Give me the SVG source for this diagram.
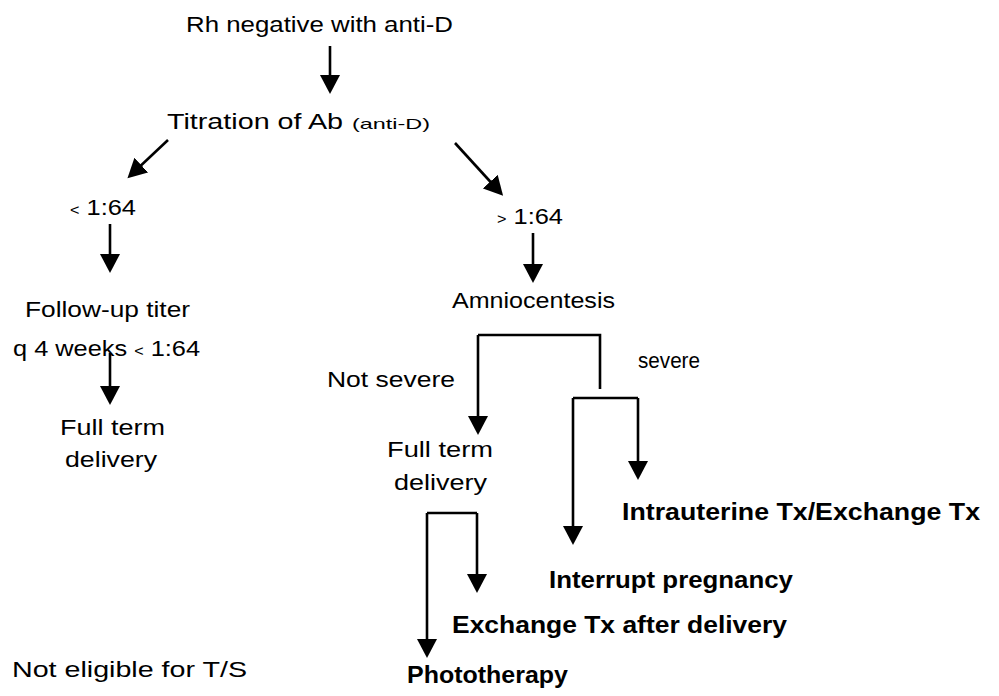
<svg xmlns="http://www.w3.org/2000/svg" width="999" height="696" viewBox="0 0 999 696">
<style>
text{font-family:"Liberation Sans","DejaVu Sans",sans-serif;fill:#000;}
.r{font-size:22px;}
.b{font-size:23px;font-weight:bold;}
.s{font-size:15px;}
.c{fill:none;stroke:#000;stroke-width:2.6;}
.a{marker-end:url(#ah);}
</style>
<defs>
<marker id="ah" markerUnits="userSpaceOnUse" markerWidth="20" markerHeight="22" refX="10" refY="10" orient="auto" viewBox="0 0 20 20">
<path d="M0,0 L19,10 L0,20 z" fill="#000"/>
</marker>
</defs>
<rect width="999" height="696" fill="#fff"/>
<g id="connectors">
<path class="c a" d="M330,46 V85"/>
<path class="c a" d="M168,140 L134,172"/>
<path class="c a" d="M455,143 L497,189"/>
<path class="c a" d="M110,224 V264"/>
<path class="c a" d="M533,233 V274"/>
<path class="c a" d="M110,353 V396"/>
<path class="c" d="M600,389 V335 H478"/>
<path class="c a" d="M478,335 V426"/>
<path class="c" d="M573,398 H638"/>
<path class="c a" d="M573,398 V536"/>
<path class="c a" d="M638,398 V471"/>
<path class="c" d="M427,513 H477"/>
<path class="c a" d="M427,513 V649"/>
<path class="c a" d="M477,513 V584"/>
</g>
<g id="n1"><text class="r" x="186" y="32" textLength="267" lengthAdjust="spacingAndGlyphs">Rh negative with anti-D</text></g>
<g id="n2"><text class="r" x="167" y="129" textLength="176" lengthAdjust="spacingAndGlyphs">Titration of Ab</text><text class="s" x="352" y="129" textLength="78" lengthAdjust="spacingAndGlyphs">(anti-D)</text></g>
<g id="n3"><text class="r" x="70" y="215" textLength="66" lengthAdjust="spacingAndGlyphs"><tspan font-size="14">&lt;</tspan> 1:64</text></g>
<g id="n4"><text class="r" x="497" y="224" textLength="66" lengthAdjust="spacingAndGlyphs"><tspan font-size="14">&gt;</tspan> 1:64</text></g>
<g id="n5"><text class="r" x="25" y="317" textLength="165" lengthAdjust="spacingAndGlyphs">Follow-up titer</text><text class="r" x="13" y="356" textLength="187" lengthAdjust="spacingAndGlyphs">q 4 weeks <tspan font-size="14">&lt;</tspan> 1:64</text></g>
<g id="n6"><text class="r" x="60" y="435" textLength="105" lengthAdjust="spacingAndGlyphs">Full term</text><text class="r" x="65" y="467" textLength="92" lengthAdjust="spacingAndGlyphs">delivery</text></g>
<g id="n7"><text class="r" x="452" y="308" textLength="163" lengthAdjust="spacingAndGlyphs">Amniocentesis</text></g>
<g id="l1"><text class="r" x="327" y="387" textLength="128" lengthAdjust="spacingAndGlyphs">Not severe</text></g>
<g id="l2"><text class="r" x="638" y="368" textLength="62" lengthAdjust="spacingAndGlyphs">severe</text></g>
<g id="n8"><text class="r" x="387" y="457" textLength="106" lengthAdjust="spacingAndGlyphs">Full term</text><text class="r" x="394" y="490" textLength="93" lengthAdjust="spacingAndGlyphs">delivery</text></g>
<g id="n9"><text class="b" x="622" y="520" textLength="358" lengthAdjust="spacingAndGlyphs">Intrauterine Tx/Exchange Tx</text></g>
<g id="n10"><text class="b" x="549" y="588" textLength="244" lengthAdjust="spacingAndGlyphs">Interrupt pregnancy</text></g>
<g id="n11"><text class="b" x="452" y="633" textLength="335" lengthAdjust="spacingAndGlyphs">Exchange Tx after delivery</text></g>
<g id="n12"><text class="b" x="407" y="683" textLength="161" lengthAdjust="spacingAndGlyphs">Phototherapy</text></g>
<g id="n13"><text class="r" x="12" y="677" textLength="235" lengthAdjust="spacingAndGlyphs">Not eligible for T/S</text></g>
</svg>
